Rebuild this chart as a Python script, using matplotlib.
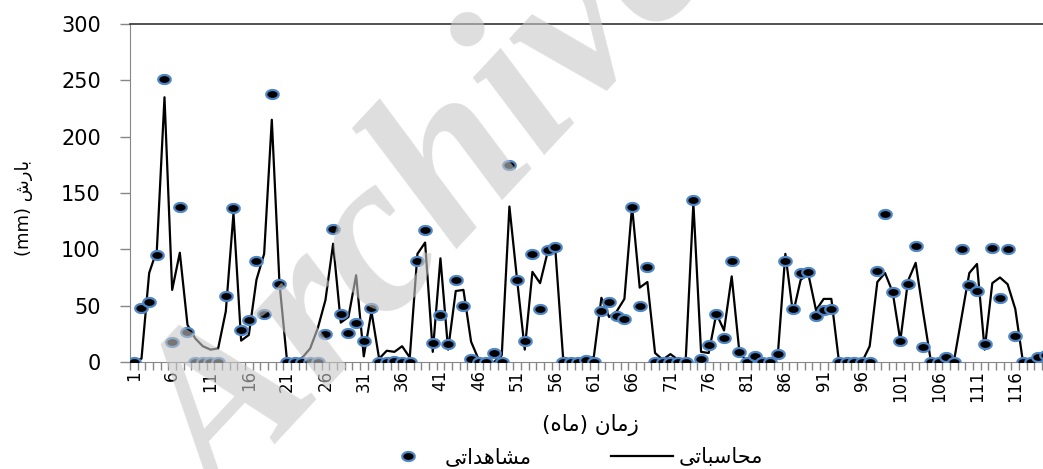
import numpy as np
import matplotlib
matplotlib.use("Agg")
import matplotlib.pyplot as plt
from matplotlib.ticker import FixedLocator

# monthly rainfall (mm), months 1..120
months = np.arange(1, 121)

observed = [0, 48, 53, 95, 251, 18, 138, 27, 0, 0,
            0, 0, 59, 137, 28, 37, 90, 43, 238, 69,
            0, 0, 0, 0, 0, 25, 118, 43, 26, 35,
            19, 48, 0, 0, 1, 0, 0, 90, 117, 17,
            42, 16, 73, 50, 3, 0, 0, 8, 0, 175,
            73, 19, 96, 47, 99, 102, 0, 0, 0, 2,
            0, 45, 53, 41, 38, 138, 50, 84, 0, 0,
            0, 0, 0, 144, 3, 15, 43, 21, 90, 9,
            0, 5, 0, 0, 7, 90, 47, 79, 80, 41,
            46, 47, 0, 0, 0, 0, 0, 81, 131, 62,
            19, 69, 103, 13, 0, 0, 4, 0, 100, 68,
            63, 16, 101, 57, 100, 23, 0, 0, 4, 6]

computed = [0, 3, 79, 99, 235, 64, 97, 33, 21, 14,
            11, 12, 45, 132, 19, 24, 73, 96, 215, 70,
            0, 0, 4, 12, 30, 55, 105, 35, 40, 77,
            5, 45, 3, 10, 9, 14, 4, 96, 106, 9,
            92, 11, 63, 64, 18, 2, 0, 0, 6, 138,
            73, 11, 80, 70, 98, 99, 4, 2, 2, 4,
            4, 57, 40, 45, 56, 138, 66, 71, 8, 2,
            7, 2, 2, 141, 9, 8, 43, 28, 76, 9,
            0, 2, 0, 0, 5, 96, 43, 73, 78, 46,
            56, 56, 0, 0, 0, 0, 14, 71, 79, 62,
            19, 72, 88, 43, 0, 0, 3, 1, 40, 79,
            87, 11, 70, 75, 69, 47, 0, 0, 1, 2]

x_labels = list(range(1, 121, 5))
y_ticks = [0, 50, 100, 150, 200, 250, 300]

# Persian strings, pre-shaped (presentation forms, visual order)
ylabel_txt = "(mm) \uFEB5\uFEAD\uFE8E\uFE91"                        # بارش (mm)
xlabel_txt = "(\uFEE9\uFE8E\uFEE3) \uFEE5\uFE8E\uFEE3\uFEAF"        # زمان (ماه)
obs_txt = "\uFEF0\uFE97\uFE8D\uFEAA\uFEEB\uFE8E\uFEB8\uFEE3"        # مشاهداتی
calc_txt = "\uFEF0\uFE97\uFE8E\uFE92\uFEB3\uFE8E\uFEA4\uFEE3"       # محاسباتی

plt.rcParams['font.family'] = ['DejaVu Sans']

W, H = 1043, 469
fig = plt.figure(figsize=(W / 100, H / 100), dpi=100)
left, right, top, bottom = 130, 1049.8, 24, 362
ax = fig.add_axes([left / W, 1 - bottom / H, (right - left) / W, (bottom - top) / H])

# slightly flattened dot, like the original
t = np.linspace(0, 2 * np.pi, 41)
ellipse = np.column_stack([np.cos(t), 0.72 * np.sin(t)])

ax.plot(months, computed, color='black', lw=1.6, zorder=2, label=calc_txt)
ax.plot(months, observed, ls='none', marker=ellipse, ms=9, mfc='black',
        mec='#4f86c6', mew=1.6, zorder=3, label=obs_txt)

ax.set_xlim(0.5, 120.5)
ax.set_ylim(0, 300)

ax.xaxis.set_major_locator(FixedLocator(x_labels))
ax.set_xticklabels([str(v) for v in x_labels], rotation=90, fontsize=12)
ax.xaxis.set_minor_locator(FixedLocator(np.arange(0.5, 121, 1)))
ax.tick_params(axis='x', which='major', length=0, pad=6)
ax.tick_params(axis='x', which='minor', length=6, color='#868686', width=1)

ax.set_yticks(y_ticks)
ax.tick_params(axis='y', labelsize=15, length=7, color='#868686', width=1, pad=14)

for s in ['left', 'bottom']:
    ax.spines[s].set_color('#868686')
ax.spines['right'].set_visible(False)
ax.spines['top'].set_color('#333333')
ax.spines['top'].set_linewidth(1.2)

ax.set_ylabel(ylabel_txt, fontsize=13)
ax.yaxis.set_label_coords(-0.105, 0.456)
ax.set_xlabel(xlabel_txt, fontsize=15.5)
ax.xaxis.set_label_coords(0.501, -0.155)

h, l = ax.get_legend_handles_labels()
fig.legend([h[1], h[0]], [l[1], l[0]], loc='center', ncol=2, frameon=False,
           bbox_to_anchor=(570 / W, 1 - 457 / H), fontsize=15,
           handlelength=3.0, handletextpad=0.25, columnspacing=3.8)

# watermark
fig.text(0.215, -0.09, 'Archive of SID', fontsize=165, family='Liberation Serif',
         weight='bold', style='italic', color='#c8c8c8', alpha=0.6,
         rotation=47, rotation_mode='anchor', ha='left', va='baseline', zorder=10)

fig.savefig('out.png', dpi=100)
